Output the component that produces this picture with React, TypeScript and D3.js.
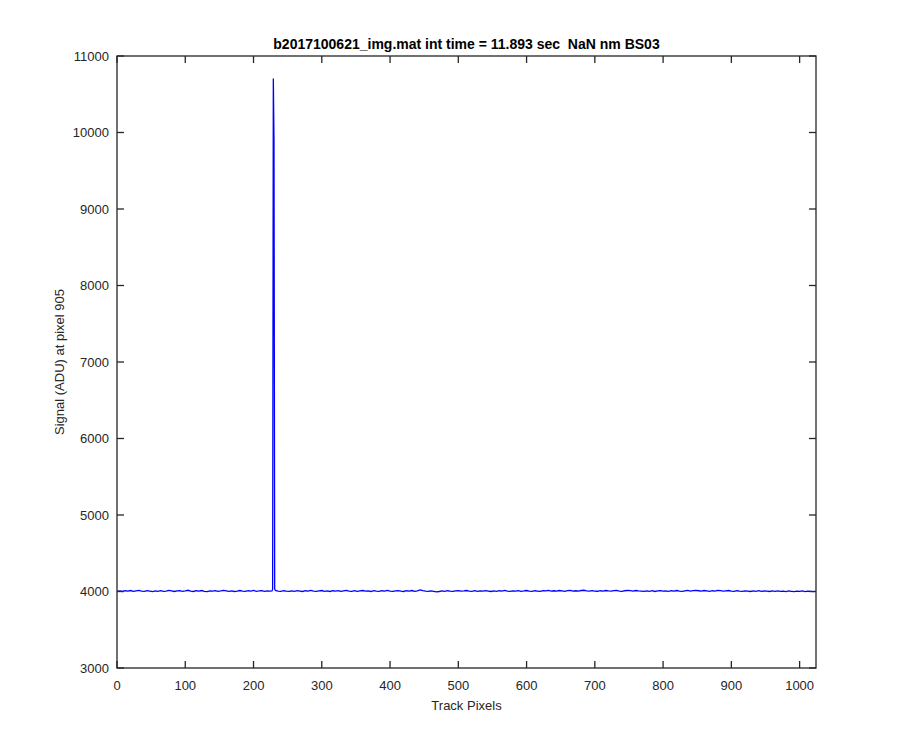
import React from "react";
import * as d3 from "d3";

const TITLE = "b2017100621_img.mat int time = 11.893 sec  NaN nm BS03";
const X_LABEL = "Track Pixels";
const Y_LABEL = "Signal (ADU) at pixel 905";
const X_TICKS = [0, 100, 200, 300, 400, 500, 600, 700, 800, 900, 1000];
const Y_TICKS = [3000, 4000, 5000, 6000, 7000, 8000, 9000, 10000, 11000];
const X_DOMAIN = [0, 1024];
const Y_DOMAIN = [3000, 11000];

// baseline samples every 4 track pixels (x = 0, 4, ..., 1020)
const BASELINE_STEP = 4;
const BASELINE = [
  4003, 4008, 4000, 4010, 4005, 4013, 4002, 4009, 4015, 4006, 4001, 4011, 4005, 3999, 4008, 4003,
  4010, 4002, 4006, 4014, 4007, 4000, 4008, 4011, 4003, 4009, 4016, 4005, 4000, 4010, 4006, 4013,
  4003, 3999, 4009, 4005, 4012, 4001, 4007, 4015, 4009, 4002, 4009, 4000, 4005, 4013, 4006, 4001,
  4010, 4005, 4014, 4003, 4007, 4012, 4001, 4009, 4006, 4010, 4014, 4006, 4002, 4010, 4005, 4001,
  4009, 4003, 4012, 4006, 4000, 4010, 4005, 4014, 4006, 4001, 4009, 4013, 4003, 4007, 4000, 4010,
  4005, 4012, 4001, 4009, 4015, 4006, 4002, 4010, 4001, 4007, 4013, 4005, 4009, 4000, 4012, 4006,
  4002, 4010, 4005, 4014, 4006, 4001, 4009, 4012, 4005, 4000, 4010, 4006, 4013, 4003, 4009, 4020,
  4010, 4005, 4001, 4009, 4003, 3995, 4000, 4007, 4003, 4010, 4005, 4001, 4009, 4012, 4005, 4007,
  4013, 4006, 4002, 4010, 4001, 4009, 4005, 4012, 4006, 4000, 4009, 4003, 4010, 4005, 4014, 4006,
  4001, 4009, 4005, 4012, 4003, 4007, 4013, 4005, 4001, 4010, 4006, 4002, 4012, 4008, 4015, 4006,
  4010, 4005, 4013, 4008, 4003, 4012, 4015, 4006, 4010, 4005, 4013, 4016, 4008, 4004, 4012, 4006,
  4003, 4010, 4006, 4013, 4008, 4004, 4012, 4014, 4006, 4002, 4010, 4015, 4011, 4006, 4013, 4008,
  4005, 4001, 4009, 4003, 4010, 4000, 4007, 4012, 4005, 4009, 4003, 4010, 4006, 4013, 4005, 4001,
  4008, 4014, 4006, 4012, 4015, 4010, 4005, 4013, 4008, 4003, 4010, 4006, 4014, 4011, 4005, 4009,
  4013, 4006, 4002, 4010, 4005, 4001, 4009, 4005, 4000, 4007, 4003, 4010, 4001, 4007, 4005, 4000,
  4007, 4003, 4009, 4001, 4005, 3999, 4007, 4003, 3998, 4005, 4001, 4007, 3999, 4004, 4002, 3999,
];
// the spike around track pixel 229
const PEAK_X = [227, 228, 229, 230, 231];
const PEAK_Y = [4008, 4030, 10705, 9900, 4035];

const M = { left: 117, right: 816, top: 56, bottom: 668 };
const AXIS_COLOR = "#262626";
const FONT = "'Liberation Sans', Arial, Helvetica, sans-serif";

export default function App() {
  const x = d3.scaleLinear().domain(X_DOMAIN).range([M.left, M.right]);
  const y = d3.scaleLinear().domain(Y_DOMAIN).range([M.bottom, M.top]);

  const pts: [number, number][] = [];
  BASELINE.forEach((v, i) => {
    const px = i * BASELINE_STEP;
    if (px < PEAK_X[0] || px > PEAK_X[PEAK_X.length - 1]) pts.push([px, v]);
  });
  PEAK_X.forEach((px, i) => pts.push([px, PEAK_Y[i]]));
  pts.push([1023, 4002]);
  pts.sort((a, b) => a[0] - b[0]);

  const line = d3
    .line<[number, number]>()
    .x((d) => x(d[0]))
    .y((d) => y(d[1]));

  const tl = 7;
  return (
    <svg
      width={900}
      height={750}
      style={{ position: "absolute", left: 0, top: 0, background: "#fff" }}
      fontFamily={FONT}
    >
      <rect x={0} y={0} width={900} height={750} fill="#fff" />
      <path d={line(pts) || ""} fill="none" stroke="#0000ff" strokeWidth={1.3} />
      <rect
        x={M.left}
        y={M.top}
        width={M.right - M.left}
        height={M.bottom - M.top}
        fill="none"
        stroke={AXIS_COLOR}
        strokeWidth={1.3}
      />
      {X_TICKS.map((t) => (
        <g key={"x" + t}>
          <line x1={x(t)} x2={x(t)} y1={M.bottom} y2={M.bottom - tl} stroke={AXIS_COLOR} strokeWidth={1.3} />
          <line x1={x(t)} x2={x(t)} y1={M.top} y2={M.top + tl} stroke={AXIS_COLOR} strokeWidth={1.3} />
          <text x={x(t)} y={M.bottom + 22} textAnchor="middle" fontSize={13} fill={AXIS_COLOR}>
            {t}
          </text>
        </g>
      ))}
      {Y_TICKS.map((t) => (
        <g key={"y" + t}>
          <line x1={M.left} x2={M.left + tl} y1={y(t)} y2={y(t)} stroke={AXIS_COLOR} strokeWidth={1.3} />
          <line x1={M.right} x2={M.right - tl} y1={y(t)} y2={y(t)} stroke={AXIS_COLOR} strokeWidth={1.3} />
          <text x={M.left - 8} y={y(t) + 4.5} textAnchor="end" fontSize={13} fill={AXIS_COLOR}>
            {t}
          </text>
        </g>
      ))}
      <text
        x={(M.left + M.right) / 2}
        y={49}
        textAnchor="middle"
        fontSize={14}
        fontWeight="bold"
        fill="#000"
        style={{ whiteSpace: "pre" }}
        xmlSpace="preserve"
      >
        {TITLE}
      </text>
      <text x={(M.left + M.right) / 2} y={710} textAnchor="middle" fontSize={13} fill={AXIS_COLOR}>
        {X_LABEL}
      </text>
      <text
        transform={`translate(64, ${(M.top + M.bottom) / 2}) rotate(-90)`}
        textAnchor="middle"
        fontSize={13}
        fill={AXIS_COLOR}
      >
        {Y_LABEL}
      </text>
    </svg>
  );
}
